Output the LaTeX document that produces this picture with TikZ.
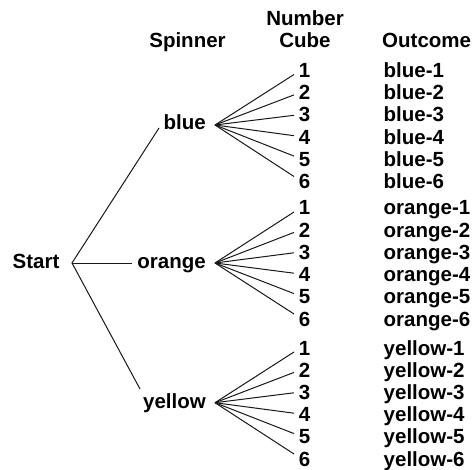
\documentclass[tikz,border=0pt]{standalone}
\usepackage{fontspec}
\setmainfont{Liberation Sans}
\begin{document}
\begin{tikzpicture}[x=1pt,y=-1pt,
  lbl/.style={inner sep=0pt,font=\bfseries\fontsize{20.5}{24}\selectfont},
  branch/.style={line width=1pt,black!90}]
\useasboundingbox (0,0) rectangle (476,470);

% column headings
\node[lbl,anchor=base] (hspin) at (187.5,48) {Spinner};
\node[lbl,anchor=base] (hnum)  at (305,26) {Number};
\node[lbl,anchor=base] (hcube) at (305,48) {Cube};
\node[lbl,anchor=base west] (hout) at (382,48) {Outcome};

% root
\node[lbl,anchor=base west] (start) at (12.5,268) {Start};
\coordinate (root) at (72,263);

% spinner results
\node[lbl,anchor=base east] (blue)   at (206,130) {blue};
\node[lbl,anchor=base east] (orange) at (206,268) {orange};
\node[lbl,anchor=base east] (yellow) at (206,408) {yellow};

\coordinate (blue-in)   at (159,128);
\coordinate (orange-in) at (132,263);
\coordinate (yellow-in) at (140,389);

\draw[branch] (blue-in) -- (root) -- (yellow-in);
\draw[branch] (root) -- (orange-in);

% number cube branches and outcomes
\foreach \s/\yb/\b in {blue/125/77.5, orange/263/215, yellow/402.7/355}{
  \coordinate (\s-fork) at (215,\yb);
  \foreach \i in {1,...,6}{
    \pgfmathsetmacro{\yy}{\b+(\i-1)*22.2}
    \pgfmathsetmacro{\ye}{\b-3+(\i-1)*20.4}
    \node[lbl,anchor=base] (n-\s-\i) at (304.5,\yy) {\i};
    \node[lbl,anchor=base west] (o-\s-\i) at (383.5,\yy) {\s-\i};
    \coordinate (e-\s-\i) at (294,\ye);
    \draw[branch] (\s-fork) -- (e-\s-\i);
  }
}
\end{tikzpicture}
\end{document}
